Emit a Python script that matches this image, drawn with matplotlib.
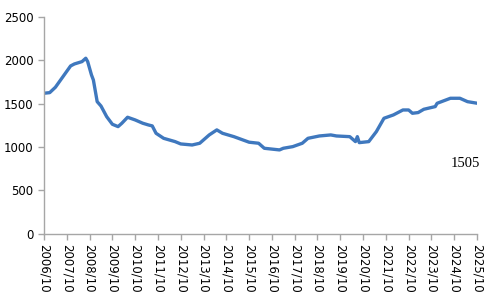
import matplotlib
matplotlib.use("Agg")
import matplotlib.pyplot as plt

# months since 2006/10
months = [0, 3, 6, 10, 14, 16, 20, 22, 23, 25, 26, 28, 30, 33, 36, 39, 41, 44,
          48, 52, 55, 57, 59, 63, 69, 72, 78, 82, 87, 91, 94, 100, 108, 113,
          116, 124, 126, 131, 136, 139, 145, 151, 154, 161, 164, 165, 166,
          171, 175, 179, 184, 189, 192, 194, 197, 200, 206, 207, 214, 219,
          223, 228]
values = [1620, 1627, 1689, 1812, 1935, 1958, 1985, 2024, 1985, 1831, 1773,
          1523, 1473, 1350, 1262, 1235, 1274, 1343, 1312, 1274, 1254, 1243,
          1158, 1100, 1062, 1035, 1023, 1043, 1139, 1197, 1158, 1119, 1055,
          1043, 985, 966, 985, 1004, 1043, 1100, 1127, 1139, 1127, 1119, 1062,
          1119, 1050, 1062, 1177, 1331, 1370, 1427, 1427, 1389, 1397, 1435,
          1466, 1504, 1562, 1562, 1523, 1505]
tick_labels = ["%d/10" % y for y in range(2006, 2026)]
y_ticks = [0, 500, 1000, 1500, 2000, 2500]
last_label = "1505"

grey = "#a6a6a6"

fig = plt.figure(figsize=(5, 2.98), dpi=100)
ax = fig.add_axes([0.088, 0.216, 0.866, 0.727])

ax.plot(months, values, color="#3f78be", linewidth=2.4, solid_capstyle="round")

ax.set_xlim(0, 228)
ax.set_ylim(0, 2500)
ax.set_xticks(range(0, 229, 12))
ax.set_xticklabels(tick_labels, rotation=270, fontsize=8.5)
ax.set_yticks(y_ticks)
ax.tick_params(axis="y", labelsize=8.5)
ax.tick_params(direction="out", length=4, color=grey, width=1)

for s in ["top", "right"]:
    ax.spines[s].set_visible(False)
for s in ["left", "bottom"]:
    ax.spines[s].set_color(grey)
    ax.spines[s].set_linewidth(1)

ax.text(222, 815, last_label, family="Liberation Serif", fontsize=10.5,
        ha="center", va="center")

fig.savefig("out.png", dpi=100)
